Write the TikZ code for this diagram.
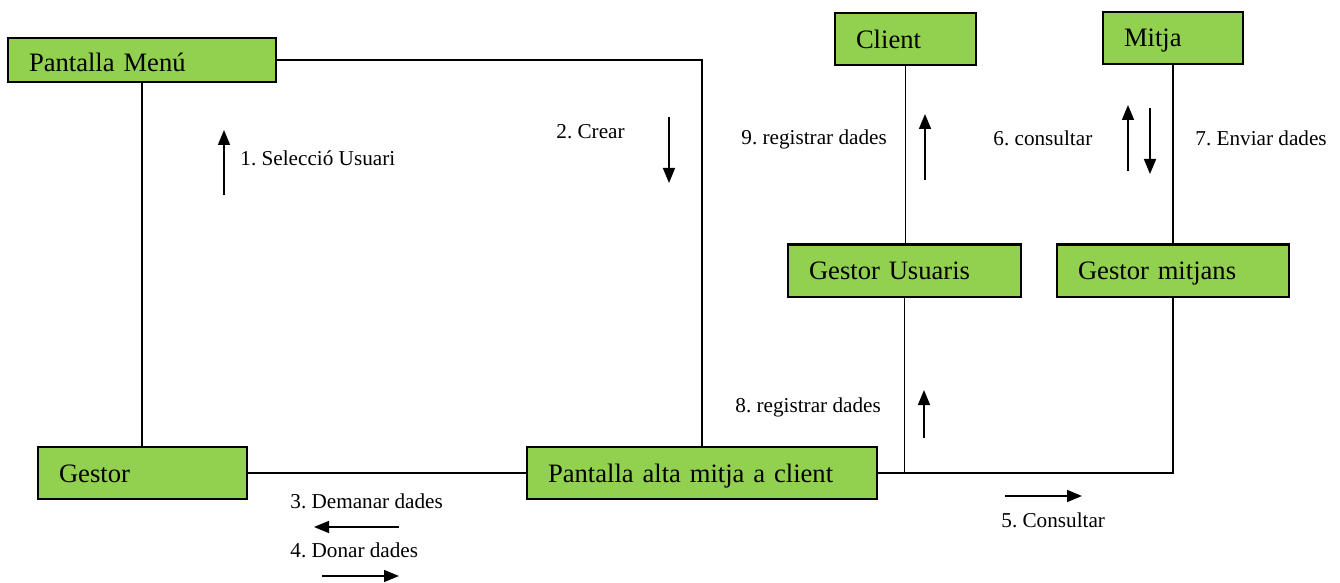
\documentclass[tikz,border=0pt]{standalone}
\usepackage{fontspec}
\setmainfont{Liberation Serif}
\usepackage{xcolor}
\usetikzlibrary{positioning}
\usetikzlibrary{arrows.meta}
\definecolor{boxgreen}{RGB}{146,208,80}
\frenchspacing

\begin{document}
\begin{tikzpicture}[x=0.5pt, y=-0.5pt,
        box/.style={draw, fill=boxgreen, line width=1pt, inner xsep=10.5pt, inner ysep=0pt, align=left, minimum height=26pt, text height=0.9em, text depth=0pt, font=\fontsize{13.3}{16}\selectfont},
        lbl/.style={anchor=west, inner sep=0pt, font=\fontsize{10.6}{12.7}\selectfont},
        wire/.style={line width=0.8pt},
        msg/.style={line width=0.8pt, -{Triangle[length=7.5pt,width=6pt]}}]
            \useasboundingbox (0,0) rectangle (1340,583);
            \node[box, text width=113pt, minimum height=22pt] (pantalla_menu) at (142,60) {\raisebox{-1.5pt}{Pantalla Menú}};
            \node[box, text width=83.5pt] (gestor) at (142.5,473) {Gestor};
            \node[box, text width=154pt] (pantalla_alta) at (702,473) {Pantalla alta mitja a client};
            \node[box, text width=49.5pt] (client) at (905.5,39.5) {Client};
            \node[box, text width=49pt] (mitja) at (1173,38) {Mitja};
            \node[box, text width=95.5pt] (gestor_usuaris) at (904.5,270.5) {Gestor Usuaris};
            \node[box, text width=95pt] (gestor_mitjans) at (1173,270.5) {Gestor mitjans};
            \draw[wire] (pantalla_menu.east) -| (pantalla_alta.north);
            \draw[wire] (pantalla_menu.south) -- (pantalla_menu.south |- gestor.north);
            \draw[wire] (gestor.east) -- (pantalla_alta.west);
            \draw[wire] (pantalla_alta.east) -| (gestor_mitjans.south);
            \draw[wire] (gestor_usuaris.south) -- (gestor_usuaris.south |- pantalla_alta.east);
            \draw[wire] (client.south) -- (client.south |- gestor_usuaris.north);
            \draw[wire] (mitja.south) -- (gestor_mitjans.north);
            \node[lbl] (msg_1) at (240,158) {1. Selecció Usuari};
            \node[lbl] (msg_2) at (556,132) {2. Crear};
            \node[lbl] (msg_3) at (290,501) {3. Demanar dades};
            \node[lbl] (msg_4) at (290,550) {4. Donar dades};
            \node[lbl] (msg_5) at (1001,520) {5. Consultar};
            \node[lbl] (msg_6) at (993,138) {6. consultar};
            \node[lbl] (msg_7) at (1195,138) {7. Enviar dades};
            \node[lbl] (msg_8) at (735,407) {8. registrar dades};
            \node[lbl] (msg_9) at (741,139) {9. registrar dades};
            \draw[msg] (224,195) -- (224,130);
            \draw[msg] (669,117) -- (669,183);
            \draw[msg] (399,527) -- (314,527);
            \draw[msg] (322,576) -- (399,576);
            \draw[msg] (1005,496) -- (1082,496);
            \draw[msg] (1128,171) -- (1128,105);
            \draw[msg] (1150,108) -- (1150,174);
            \draw[msg] (924,438) -- (924,390);
            \draw[msg] (925,180) -- (925,114);
        \end{tikzpicture}
\end{document}
